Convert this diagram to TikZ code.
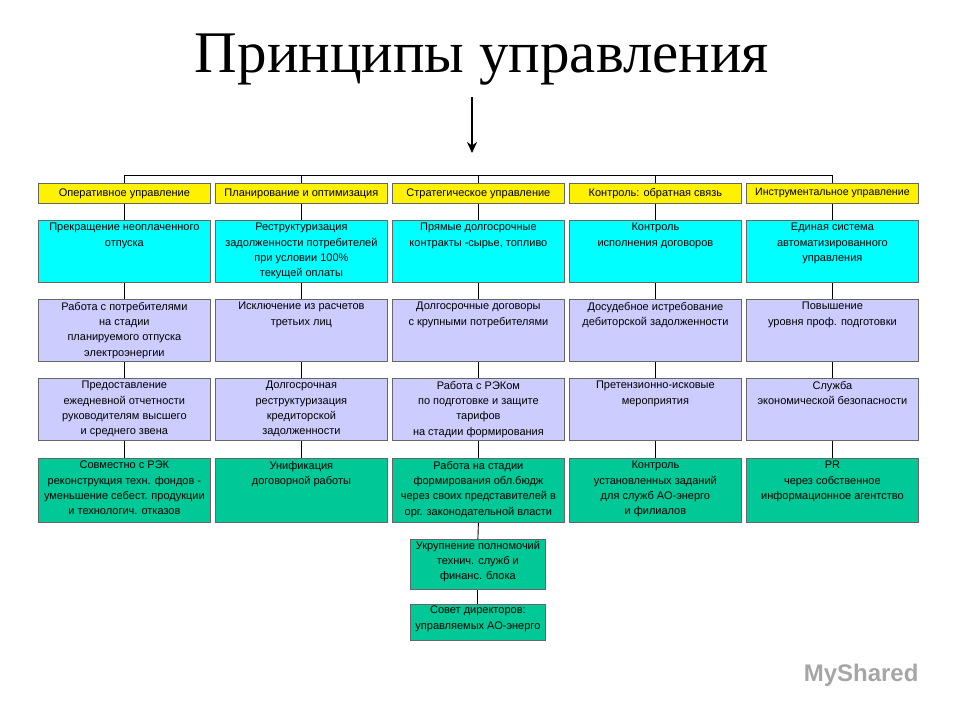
\documentclass[tikz,border=0pt]{standalone}
\usepackage{fontspec}
\usetikzlibrary{arrows.meta}
\setmainfont{Liberation Sans}
\newfontfamily\titlefont{Liberation Serif}
\begin{document}
\begin{tikzpicture}[x=1pt,y=-1pt,
  bx/.style={draw=gray!80!black,line width=0.8pt,minimum width=172pt,inner sep=0pt,anchor=north west},
  hd/.style={bx,fill=yellow,minimum height=20pt},
  cy/.style={bx,fill={rgb,255:red,0;green,255;blue,255},minimum height=62pt},
  lv/.style={bx,fill={rgb,255:red,204;green,204;blue,255},minimum height=62pt},
  gr/.style={bx,fill={rgb,255:red,0;green,200;blue,150},minimum height=64pt},
  tx/.style={anchor=north,align=center,inner sep=0pt,font=\fontsize{11}{15.3}\selectfont},
  ht/.style={font=\fontsize{11}{12}\selectfont},
  ln/.style={line width=0.9pt}]
\useasboundingbox (0,0) rectangle (960,720);
\node[font=\titlefont\fontsize{59}{64}\selectfont] (title) at (482,60) {Принципы управления};
\coordinate (a0) at (472,97); \coordinate (a1) at (472,153);
\draw[line width=2pt,-{Stealth[length=11pt,width=10pt]}] (a0) -- (a1);
\def\cols{38,215,392,569,746}
\foreach \x [count=\i] in \cols {
  \node[hd] (h\i) at (\x,183) {};
  \node[cy] (c\i) at (\x,220) {};
  \node[lv] (p\i) at (\x,299) {};
  \node[lv] (q\i) at (\x,378) {};
  \node[gr] (g\i) at (\x,458) {};
  \draw[ln] (h\i.south) -- (c\i.north);
  \draw[ln] (c\i.south) -- (p\i.north);
  \draw[ln] (p\i.south) -- (q\i.north);
  \draw[ln] (q\i.south) -- (g\i.north);
}
\coordinate (t1) at (124,175); \coordinate (t5) at (832,175);
\draw[ln] (t1) -- (t5);
\foreach \i in {1,...,5} \draw[ln] (h\i.north) -- (h\i.north |- t1);
% headers
\node[ht] at (h1) {Оперативное управление};
\node[ht] at (h2) {Планирование и оптимизация};
\node[ht] at (h3) {Стратегическое управление};
\node[ht] at (h4) {Контроль: обратная связь};
\node[ht,font=\fontsize{10.6}{12}\selectfont] at (h5) {Инструментальное управление};
% texts
\node[tx] at ([yshift=-3pt]c1.north) {Прекращение неоплаченного\\отпуска};
\node[tx] at ([yshift=-3pt]c2.north) {Реструктуризация\\задолженности потребителей\\при условии 100\%\\текущей оплаты};
\node[tx] at ([yshift=-3pt]c3.north) {Прямые долгосрочные\\контракты -сырье, топливо};
\node[tx] at ([yshift=-3pt]c4.north) {Контроль\\исполнения договоров};
\node[tx] at ([yshift=-3pt]c5.north) {Единая система\\автоматизированного\\управления};
\node[tx] at ([yshift=-3pt]p1.north) {Работа с потребителями\\на стадии\\планируемого отпуска\\электроэнергии};
\node[tx] at ([yshift=-3pt]p2.north) {Исключение из расчетов\\третьих лиц};
\node[tx] at ([yshift=-3pt]p3.north) {Долгосрочные договоры\\с крупными потребителями};
\node[tx] at ([yshift=-3pt]p4.north) {Досудебное истребование\\дебиторской задолженности};
\node[tx] at ([yshift=-3pt]p5.north) {Повышение\\уровня проф. подготовки};
\node[tx] at ([yshift=-3pt]q1.north) {Предоставление\\ежедневной отчетности\\руководителям высшего\\и среднего звена};
\node[tx] at ([yshift=-3pt]q2.north) {Долгосрочная\\реструктуризация\\кредиторской\\задолженности};
\node[tx] at ([yshift=-3pt]q3.north) {Работа с РЭКом\\по подготовке и защите\\тарифов\\на стадии формирования};
\node[tx] at ([yshift=-3pt]q4.north) {Претензионно-исковые\\мероприятия};
\node[tx] at ([yshift=-3pt]q5.north) {Служба\\экономической безопасности};
\node[tx] at ([yshift=-3pt]g1.north) {Совместно с РЭК\\реконструкция техн. фондов -\\уменьшение себест. продукции\\и технологич. отказов};
\node[tx] at ([yshift=-3pt]g2.north) {Унификация\\договорной работы};
\node[tx] at ([yshift=-3pt]g3.north) {Работа на стадии\\формирования обл.бюдж\\через своих представителей в\\орг. законодательной власти};
\node[tx] at ([yshift=-3pt]g4.north) {Контроль\\установленных заданий\\для служб АО-энерго\\и филиалов};
\node[tx] at ([yshift=-3pt]g5.north) {PR\\через собственное\\информационное агентство};
% extra boxes
\node[gr,minimum width=135pt,minimum height=50pt] (e1) at (410,539) {};
\node[gr,minimum width=135pt,minimum height=36pt] (e2) at (410,604) {};
\draw[ln] (g3.south) -- (e1.north);
\draw[ln] (e1.south) -- (e2.north);
\node[tx] at ([yshift=-2pt]e1.north) {Укрупнение полномочий\\технич. служб и\\финанс. блока};
\node[tx] at ([yshift=-2pt]e2.north) {Совет директоров:\\управляемых АО-энерго};
\node[text=gray!70,font=\fontsize{24}{26}\selectfont\bfseries,anchor=east] (wm) at (922,675) {MyShared};
\end{tikzpicture}
\end{document}
